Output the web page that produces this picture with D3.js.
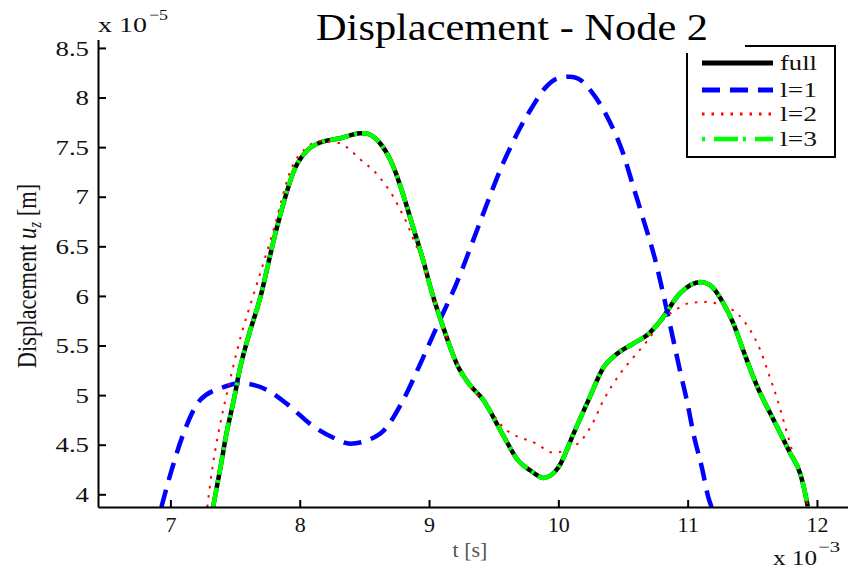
<!DOCTYPE html>
<html>
<head>
<meta charset="utf-8">
<script src="https://cdn.jsdelivr.net/npm/d3@7"></script>
<style>
  html, body { margin: 0; padding: 0; background: #fff; }
  svg { display: block; }
  text { font-family: "Liberation Serif", "Times New Roman", serif; }
</style>
</head>
<body>
<svg id="chart" width="848" height="570"></svg>
<script>
// ---- data (t in 1e-3 s, displacement in 1e-5 m) ----
const fullT = [7.33,7.387,7.433,7.49,7.54,7.61,7.69,7.812,7.967,8.06,8.16,8.315,8.469,8.50,8.60,8.725,8.80,8.875,8.95,9.03,9.10,9.227,9.305,9.42,9.567,9.69,9.784,9.885,10.0,10.117,10.233,10.35,10.457,10.58,10.70,10.79,10.944,11.10,11.176,11.277,11.354,11.43,11.54,11.665,11.795,11.87,11.90,11.93];
const fullV = [3.87,4.27,4.61,4.95,5.28,5.62,5.96,6.631,7.296,7.468,7.548,7.590,7.639,7.64,7.57,7.30,7.02,6.70,6.38,6.00,5.72,5.28,5.12,4.95,4.61,4.34,4.24,4.165,4.27,4.61,4.95,5.28,5.42,5.52,5.62,5.75,6.03,6.14,6.107,5.925,5.72,5.45,5.08,4.75,4.41,4.21,4.06,3.87];

const l1T = [6.93,7.015,7.10,7.23,7.41,7.54,7.75,7.93,8.08,8.26,8.39,8.62,8.80,8.92,9.03,9.11,9.181,9.254,9.312,9.37,9.428,9.494,9.56,9.63,9.707,9.796,9.90,9.99,10.09,10.155,10.25,10.38,10.50,10.58,10.66,10.75,10.84,10.89,10.94,10.998,11.045,11.11,11.16,11.185];
const l1V = [3.87,4.27,4.61,4.95,5.08,5.12,5.05,4.88,4.71,4.57,4.51,4.61,4.95,5.28,5.60,5.83,6.03,6.26,6.46,6.66,6.86,7.085,7.30,7.50,7.70,7.90,8.10,8.19,8.21,8.19,8.07,7.80,7.44,7.10,6.76,6.36,5.85,5.55,5.25,4.92,4.61,4.27,3.97,3.87];

const l2T = [7.285,7.325,7.37,7.425,7.484,7.55,7.63,7.79,7.94,8.04,8.16,8.315,8.392,8.493,8.57,8.648,8.717,8.779,8.833,8.88,8.95,9.03,9.10,9.227,9.31,9.43,9.575,9.83,9.96,10.15,10.25,10.35,10.48,10.58,10.69,10.80,10.92,11.02,11.15,11.25,11.385,11.486,11.563,11.625,11.695,11.77,11.83,11.895,11.93];
const l2V = [3.87,4.27,4.61,4.95,5.28,5.62,5.96,6.63,7.30,7.48,7.56,7.538,7.468,7.347,7.266,7.145,7.014,6.863,6.72,6.57,6.35,6.00,5.72,5.29,5.11,4.92,4.675,4.51,4.42,4.51,4.68,4.95,5.22,5.38,5.55,5.75,5.87,5.93,5.94,5.91,5.82,5.65,5.45,5.22,4.95,4.61,4.34,4.07,3.87];

const l3T = [7.33,7.387,7.433,7.49,7.54,7.61,7.69,7.812,7.967,8.06,8.16,8.315,8.469,8.50,8.60,8.725,8.80,8.875,8.95,9.03,9.10,9.227,9.305,9.42,9.567,9.69,9.784,9.885,10.0,10.117,10.233,10.35,10.457,10.58,10.70,10.79,10.944,11.10,11.176,11.277,11.354,11.43,11.54,11.665,11.795,11.87,11.90,11.93];
const l3V = [3.87,4.27,4.61,4.95,5.28,5.62,5.96,6.631,7.296,7.468,7.548,7.590,7.639,7.64,7.57,7.30,7.02,6.70,6.38,6.00,5.72,5.28,5.12,4.95,4.61,4.34,4.24,4.165,4.27,4.61,4.95,5.28,5.42,5.52,5.62,5.75,6.03,6.14,6.107,5.925,5.72,5.45,5.08,4.75,4.41,4.21,4.06,3.87];

const seriesNames = ["full", "l=1", "l=2", "l=3"];
const xTicks = [7, 8, 9, 10, 11, 12];
const xTickLabels = ["7", "8", "9", "10", "11", "12"];
const yTicks = [4, 4.5, 5, 5.5, 6, 6.5, 7, 7.5, 8, 8.5];
const yTickLabels = ["4", "4.5", "5", "5.5", "6", "6.5", "7", "7.5", "8", "8.5"];

// ---- layout ----
const svg = d3.select("#chart");
const L = 98, R = 848, T = 39.5, B = 507;
const x = d3.scaleLinear().domain([6.44, 12.24]).range([L, R]);
const y = d3.scaleLinear().domain([3.872, 8.585]).range([B, T]);

svg.append("defs").append("clipPath").attr("id", "clip")
  .append("rect").attr("x", L).attr("y", T).attr("width", R - L).attr("height", B - T);

const styles = [
  { stroke: "#000000", width: 4.5, dash: null },
  { stroke: "#0000ff", width: 4.5, dash: "18,10" },
  { stroke: "#ff0000", width: 2, dash: "2.5,7" },
  { stroke: "#00ff00", width: 4.5, dash: "20,5,3,5" }
];
const series = [
  d3.zip(fullT, fullV), d3.zip(l1T, l1V), d3.zip(l2T, l2V), d3.zip(l3T, l3V)
];

const line = d3.line().x(d => x(d[0])).y(d => y(d[1])).curve(d3.curveMonotoneX);
const plot = svg.append("g").attr("clip-path", "url(#clip)");
series.forEach((s, i) => {
  plot.append("path").datum(s)
    .attr("d", line)
    .attr("fill", "none")
    .attr("stroke", styles[i].stroke)
    .attr("stroke-width", styles[i].width)
    .attr("stroke-dasharray", styles[i].dash)
    .attr("stroke-linejoin", "round");
});

// ---- axes ----
const yAxis = d3.axisLeft(y).tickValues(yTicks).tickFormat((d, i) => yTickLabels[i])
  .tickSizeInner(-8).tickSizeOuter(0).tickPadding(9);
const gy = svg.append("g").attr("transform", `translate(${L},0)`).call(yAxis);
const xAxis = d3.axisBottom(x).tickValues(xTicks).tickFormat((d, i) => xTickLabels[i])
  .tickSizeInner(-7).tickSizeOuter(0).tickPadding(10);
const gx = svg.append("g").attr("transform", `translate(0,${B})`).call(xAxis);
[gx, gy].forEach(g => {
  g.select(".domain").attr("stroke", "#000").attr("stroke-width", 2);
  g.selectAll(".tick line").attr("stroke", "#000").attr("stroke-width", 2);
  g.selectAll(".tick text").attr("font-size", 22).attr("fill", "#111");
});
gy.selectAll(".tick text").attr("x", -9 / 1.22).attr("transform", "scale(1.22,1)").attr("dy", "0.33em");
gx.selectAll(".tick text").attr("y", 25).attr("dy", 0);

// exponent labels
svg.append("text").attr("x", 98).attr("y", 32).attr("font-size", 22).attr("fill", "#111")
  .attr("textLength", 49).attr("lengthAdjust", "spacingAndGlyphs").text("x 10");
svg.append("text").attr("x", 149).attr("y", 19.5).attr("font-size", 15).attr("fill", "#111")
  .attr("textLength", 19).attr("lengthAdjust", "spacingAndGlyphs").text("\u22125");
svg.append("text").attr("x", 773).attr("y", 565).attr("font-size", 22).attr("fill", "#111")
  .attr("textLength", 44).attr("lengthAdjust", "spacingAndGlyphs").text("x 10");
svg.append("text").attr("x", 818).attr("y", 552).attr("font-size", 15).attr("fill", "#111")
  .attr("textLength", 22).attr("lengthAdjust", "spacingAndGlyphs").text("\u22123");

// axis labels
svg.append("text").attr("x", 470).attr("y", 557).attr("text-anchor", "middle")
  .attr("font-size", 22).attr("fill", "#555").text("t [s]");
const yl = svg.append("text")
  .attr("transform", "translate(36,276) scale(1.25,1) rotate(-90)")
  .attr("text-anchor", "middle").attr("font-size", 22.5).attr("fill", "#111");
yl.append("tspan").text("Displacement ");
yl.append("tspan").attr("font-style", "italic").text("u");
yl.append("tspan").attr("font-style", "italic").attr("font-size", 15).attr("dy", 4).text("z");
yl.append("tspan").attr("dy", -4).text(" [m]");

// ---- legend ----
const lg = svg.append("g");
lg.append("rect").attr("x", 687).attr("y", 46).attr("width", 148).attr("height", 111)
  .attr("fill", "#fff").attr("stroke", "#000").attr("stroke-width", 2);
const legY = [63, 90, 114, 139];
seriesNames.forEach((name, i) => {
  if (i === 3) {
    lg.append("line").attr("x1", 702).attr("x2", 773).attr("y1", legY[i]).attr("y2", legY[i])
      .attr("stroke", "#00ff00").attr("stroke-width", 4.5).attr("stroke-dasharray", "3,9,24,5");
  } else {
    lg.append("line").attr("x1", 702).attr("x2", 773).attr("y1", legY[i]).attr("y2", legY[i])
      .attr("stroke", styles[i].stroke).attr("stroke-width", i === 2 ? 3 : 5)
      .attr("stroke-dasharray", i === 2 ? "2.5,7" : styles[i].dash);
  }
  lg.append("text").attr("x", 780).attr("y", legY[i] + 7).attr("font-size", 22).attr("fill", "#111")
    .attr("textLength", 37).attr("lengthAdjust", "spacingAndGlyphs").text(name);
});

// ---- title (with white background like the original export) ----
svg.append("rect").attr("x", 300).attr("y", 0).attr("width", 445).attr("height", 53).attr("fill", "#fff");
svg.append("text").attr("x", 316).attr("y", 40).attr("font-size", 38).attr("fill", "#000")
  .attr("textLength", 392).attr("lengthAdjust", "spacingAndGlyphs").text("Displacement - Node 2");
</script>
</body>
</html>
